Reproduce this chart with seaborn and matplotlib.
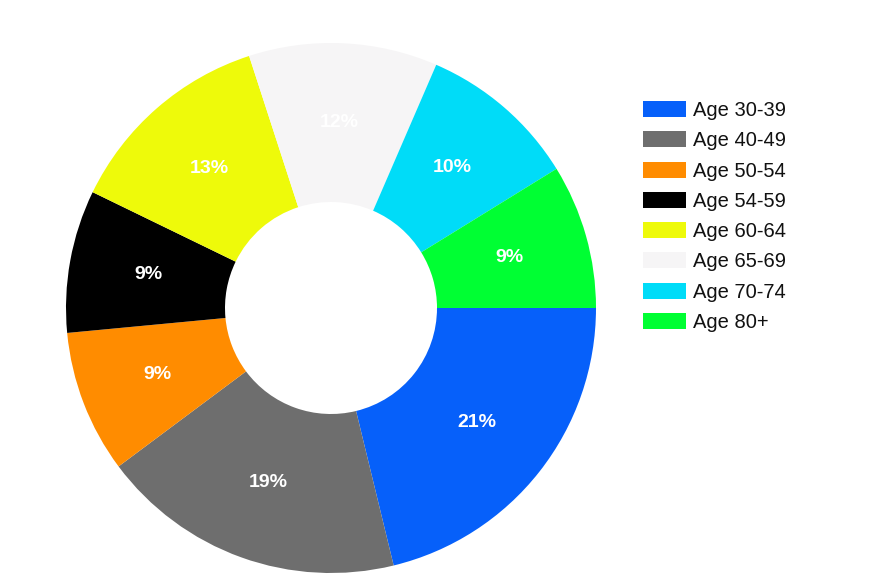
import matplotlib
matplotlib.use("Agg")
import matplotlib.pyplot as plt
import seaborn as sns

# share of patients by age group
age_groups = ["Age 30-39", "Age 40-49", "Age 50-54", "Age 54-59",
              "Age 60-64", "Age 65-69", "Age 70-74", "Age 80+"]
shares = [21.2, 18.6, 8.7, 8.7, 12.8, 11.5, 9.7, 8.8]
colors = ["#0660FA", "#6E6E6E", "#FF8C00", "#000000",
          "#EEFA0A", "#F6F5F6", "#00DCF8", "#00FF33"]

sns.set_theme(style="white")
plt.rcParams["font.family"] = ["Liberation Sans", "DejaVu Sans"]

fig = plt.figure(figsize=(8.82, 5.88), dpi=100)
ax = fig.add_axes([66 / 882, 15 / 588, 530 / 882, 530 / 588])

wedges, texts, autotexts = ax.pie(
    shares,
    colors=sns.color_palette(colors),
    startangle=0,
    counterclock=False,
    radius=1.0,
    autopct=lambda p: f"{p:.0f}%",
    pctdistance=0.70,
    wedgeprops=dict(width=0.6, linewidth=0),
    textprops=dict(color="white", fontsize=14, fontweight="bold"),
)
ax.set_xlim(-1, 1)
ax.set_ylim(-1, 1)
ax.set_aspect("equal")
ax.axis("off")

leg = fig.legend(
    wedges, age_groups,
    loc="upper left",
    bbox_to_anchor=(643 / 882, 1 - 101 / 588),
    frameon=False,
    fontsize=14.5,
    handlelength=2.15,
    handleheight=0.85,
    handletextpad=0.35,
    labelspacing=0.56,
    borderpad=0,
    borderaxespad=0,
)
for t in leg.get_texts():
    t.set_color("#111111")

fig.savefig("out.png", dpi=100)
